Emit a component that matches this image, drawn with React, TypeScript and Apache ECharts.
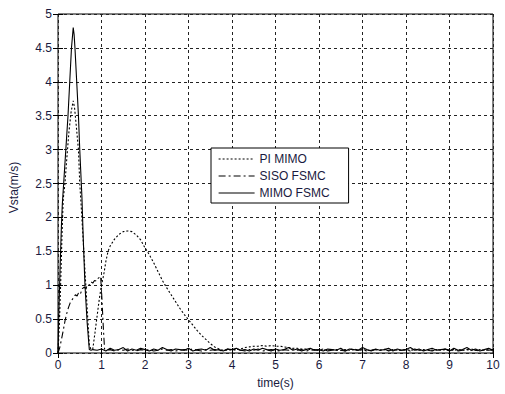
import React, { useEffect, useRef } from "react";
import * as echarts from "echarts";

// ---------- data ----------
const xTicks = [0, 1, 2, 3, 4, 5, 6, 7, 8, 9, 10];
const legendNames = ["PI MIMO", "SISO FSMC", "MIMO FSMC"];

// PI MIMO (dotted)
const piTime = [0, 0.03, 0.06, 0.09, 0.12, 0.16, 0.2, 0.25, 0.3, 0.35, 0.38, 0.42, 0.47, 0.5, 0.53, 0.58, 0.63, 0.68, 0.72, 0.76, 0.8, 0.85, 0.9, 0.95, 1.0, 1.05, 1.1, 1.15, 1.2, 1.3, 1.4, 1.5, 1.6, 1.7, 1.8, 1.9, 2.0, 2.1, 2.2, 2.3, 2.4, 2.5, 2.6, 2.7, 2.8, 2.9, 3.0, 3.1, 3.2, 3.3, 3.4, 3.5, 3.6, 3.7, 3.8];
const piValues = [0, 0.4, 1.0, 1.7, 2.27, 2.5, 2.85, 3.25, 3.55, 3.72, 3.62, 3.35, 3.0, 2.5, 2.2, 1.65, 1.1, 0.55, 0.12, 0.05, 0.06, 0.3, 0.55, 0.8, 1.0, 1.15, 1.35, 1.5, 1.58, 1.68, 1.75, 1.79, 1.8, 1.79, 1.74, 1.67, 1.55, 1.45, 1.33, 1.2, 1.07, 0.96, 0.86, 0.76, 0.66, 0.57, 0.49, 0.41, 0.33, 0.26, 0.2, 0.14, 0.09, 0.06, 0.04];
const piTailStart = 3.9;
const piTail = [
  0.04, 0.05, 0.05, 0.06, 0.08, 0.09, 0.1, 0.1, 0.11, 0.1,
  0.11, 0.1, 0.1, 0.09, 0.08, 0.07, 0.07, 0.06, 0.06, 0.05,
  0.05, 0.04, 0.05, 0.04, 0.05, 0.04, 0.04, 0.05, 0.04, 0.05,
  0.04, 0.05, 0.04, 0.04, 0.05, 0.04, 0.05, 0.04, 0.05, 0.04,
  0.04, 0.05, 0.04, 0.05, 0.04, 0.04, 0.05, 0.04, 0.05, 0.04,
  0.05, 0.04, 0.04, 0.05, 0.04, 0.05, 0.04, 0.04, 0.05, 0.04,
  0.05, 0.04,
];

// SISO FSMC (dash-dot)
const sisoTime = [0, 0.04, 0.08, 0.12, 0.16, 0.2, 0.24, 0.28, 0.32, 0.36, 0.4, 0.44, 0.48, 0.52, 0.56, 0.6, 0.64, 0.68, 0.72, 0.76, 0.8, 0.84, 0.88, 0.92, 0.96, 0.98, 1.01, 1.04, 1.07];
const sisoValues = [0, 0.08, 0.2, 0.33, 0.47, 0.58, 0.67, 0.74, 0.78, 0.82, 0.86, 0.84, 0.9, 0.88, 0.95, 0.97, 0.95, 1.01, 1.0, 1.05, 1.03, 1.07, 1.06, 1.1, 1.12, 1.13, 0.8, 0.4, 0.06];
const sisoTailStart = 1.1;
const sisoTail = [
  0.04, 0.05, 0.03, 0.05, 0.04, 0.06, 0.04, 0.03, 0.05, 0.04,
  0.05, 0.03, 0.04, 0.06, 0.04, 0.05, 0.03, 0.04, 0.05, 0.04,
  0.06, 0.04, 0.03, 0.05, 0.04, 0.05, 0.04, 0.03, 0.06, 0.04,
  0.05, 0.04, 0.03, 0.05, 0.04, 0.06, 0.03, 0.04, 0.05, 0.04,
  0.03, 0.05, 0.04, 0.06, 0.04, 0.05, 0.03, 0.04, 0.05, 0.04,
  0.06, 0.03, 0.04, 0.05, 0.04, 0.03, 0.05, 0.06, 0.04, 0.05,
  0.03, 0.04, 0.05, 0.04, 0.06, 0.03, 0.05, 0.04, 0.04, 0.05,
  0.03, 0.06, 0.04, 0.05, 0.04, 0.03, 0.05, 0.04, 0.06, 0.04,
  0.05, 0.03, 0.04, 0.05, 0.06, 0.04, 0.03, 0.05, 0.04, 0.05,
];

// MIMO FSMC (solid)
const mimoTime = [0, 0.02, 0.05, 0.08, 0.1, 0.13, 0.18, 0.23, 0.27, 0.31, 0.35, 0.37, 0.39, 0.43, 0.47, 0.5, 0.55, 0.58, 0.62, 0.67, 0.72, 0.76];
const mimoValues = [0, 0.6, 1.3, 1.9, 2.2, 2.5, 3.0, 3.5, 4.0, 4.5, 4.8, 4.7, 4.5, 4.0, 3.5, 3.0, 2.3, 1.7, 1.0, 0.45, 0.05, 0.04];
const mimoTailStart = 0.8;
const mimoTail = [
  0.05, 0.04, 0.06, 0.03, 0.07, 0.04, 0.05, 0.08, 0.03, 0.06,
  0.04, 0.07, 0.05, 0.03, 0.06, 0.04, 0.08, 0.05, 0.03, 0.06,
  0.05, 0.04, 0.07, 0.03, 0.05, 0.06, 0.04, 0.08, 0.04, 0.05,
  0.03, 0.06, 0.05, 0.07, 0.04, 0.05, 0.03, 0.06, 0.04, 0.07,
  0.05, 0.03, 0.06, 0.04, 0.05, 0.08, 0.04, 0.06, 0.03, 0.05,
  0.07, 0.04, 0.05, 0.03, 0.06, 0.05, 0.04, 0.07, 0.03, 0.06,
  0.05, 0.04, 0.08, 0.05, 0.03, 0.06, 0.04, 0.05, 0.07, 0.03,
  0.06, 0.04, 0.05, 0.08, 0.04, 0.06, 0.03, 0.05, 0.07, 0.04,
  0.05, 0.06, 0.03, 0.07, 0.04, 0.05, 0.08, 0.04, 0.06, 0.03,
  0.05, 0.07, 0.04,
];

const SAMPLE_STEP = 0.1;

function buildSeries(times: number[], values: number[], tailStart: number, tail: number[]) {
  const pts: [number, number][] = times.map((t, i) => [t, values[i]]);
  tail.forEach((v, i) => {
    pts.push([Math.round((tailStart + i * SAMPLE_STEP) * 100) / 100, v]);
  });
  return pts;
}

const FONT = "'Liberation Sans', Arial, sans-serif";
const TXT = "#1a1a40";

export default function App() {
  const ref = useRef<HTMLDivElement>(null);

  useEffect(() => {
    if (!ref.current) return;
    const chart = echarts.init(ref.current, undefined, { renderer: "svg", width: 505, height: 394 });

    const axisCommon = {
      type: "value" as const,
      axisLine: { show: false },
      axisTick: { show: true, inside: true, length: 5, lineStyle: { color: "#000", width: 1 } },
    };

    chart.setOption({
      animation: false,
      backgroundColor: "#fff",
      textStyle: { fontFamily: FONT },
      grid: {
        left: 58,
        right: 12,
        top: 14,
        bottom: 39,
        show: true,
        borderColor: "#000",
        borderWidth: 1,
        backgroundColor: "#fff",
      },
      legend: {
        data: legendNames,
        orient: "vertical",
        left: 211,
        top: 148,
        padding: [5, 19, 4, 7],
        itemWidth: 36,
        itemHeight: 14,
        itemGap: 5,
        backgroundColor: "#fff",
        borderColor: "#000",
        borderWidth: 1,
        borderRadius: 0,
        itemStyle: { color: "transparent", borderWidth: 0, opacity: 0 },
        lineStyle: { width: 1.2 },
        textStyle: { color: TXT, fontSize: 12, fontFamily: FONT },
      },
      xAxis: [
        {
          ...axisCommon,
          min: 0,
          max: 10,
          interval: 1,
          position: "bottom",
          name: "time(s)",
          nameLocation: "middle",
          nameGap: 24,
          nameTextStyle: { color: TXT, fontSize: 12, fontFamily: FONT },
          axisLabel: {
            color: TXT,
            fontSize: 12,
            fontFamily: FONT,
            margin: 6,
            formatter: (v: number) => (xTicks.includes(v) ? String(v) : ""),
          },
          splitLine: { show: true, lineStyle: { color: "#222", type: [3, 3], width: 1 } },
        },
        {
          ...axisCommon,
          min: 0,
          max: 10,
          interval: 1,
          position: "top",
          axisLabel: { show: false },
          splitLine: { show: false },
        },
      ],
      yAxis: [
        {
          ...axisCommon,
          min: 0,
          max: 5,
          interval: 0.5,
          position: "left",
          name: "Vsta(m/s)",
          nameLocation: "middle",
          nameGap: 38,
          nameTextStyle: { color: TXT, fontSize: 12, fontFamily: FONT, padding: [0, 0, 0, -8] },
          axisLabel: { color: TXT, fontSize: 12, fontFamily: FONT, margin: 6 },
          splitLine: { show: true, lineStyle: { color: "#222", type: [3, 3], width: 1 } },
        },
        {
          ...axisCommon,
          min: 0,
          max: 5,
          interval: 0.5,
          position: "right",
          axisLabel: { show: false },
          splitLine: { show: false },
        },
      ],
      series: [
        {
          name: legendNames[0],
          type: "line",
          showSymbol: false,
          symbol: "none",
          data: buildSeries(piTime, piValues, piTailStart, piTail),
          lineStyle: { color: "#000", width: 1.1, type: [2, 2] },
          itemStyle: { color: "#000" },
          z: 3,
        },
        {
          name: legendNames[1],
          type: "line",
          showSymbol: false,
          symbol: "none",
          data: buildSeries(sisoTime, sisoValues, sisoTailStart, sisoTail),
          lineStyle: { color: "#000", width: 1.1, type: [7, 3, 2, 3] },
          itemStyle: { color: "#000" },
          z: 3,
        },
        {
          name: legendNames[2],
          type: "line",
          showSymbol: false,
          symbol: "none",
          data: buildSeries(mimoTime, mimoValues, mimoTailStart, mimoTail),
          lineStyle: { color: "#000", width: 1.1, type: "solid" },
          itemStyle: { color: "#000" },
          z: 3,
        },
      ],
    });

    return () => chart.dispose();
  }, []);

  return (
    <div
      ref={ref}
      style={{ position: "fixed", left: 0, top: 0, width: 505, height: 394, background: "#fff" }}
    />
  );
}
